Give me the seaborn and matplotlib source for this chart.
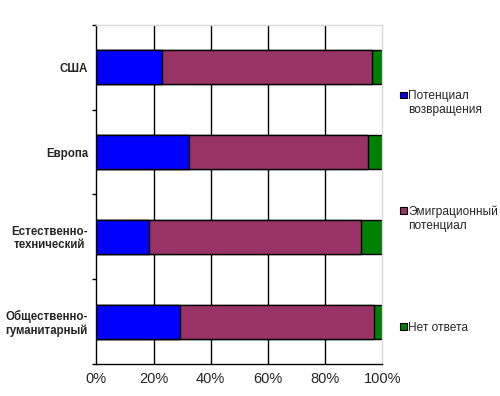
import seaborn as sns
import matplotlib.pyplot as plt
import pandas as pd
from matplotlib.patches import Rectangle

categories = ["США", "Европа", "Естественно-\nтехнический", "Общественно-\nгуманитарный"]
return_potential = [22.8, 32.5, 18.6, 29.4]
emigration_potential = [73.6, 62.5, 73.9, 67.7]
no_answer = [3.6, 5.0, 7.5, 2.9]

series_names = ["Потенциал\nвозвращения", "Эмиграционный\nпотенциал", "Нет ответа"]
colors = ["#0000FF", "#993366", "#008000"]
xticks = [0, 20, 40, 60, 80, 100]

df = pd.DataFrame({
    "cat": categories,
    "s1": return_potential,
    "s2": emigration_potential,
    "s3": no_answer,
})
df["c1"] = df["s1"]
df["c2"] = df["s1"] + df["s2"]
df["c3"] = df["c2"] + df["s3"]

sns.set_style("white")
plt.rcParams["font.family"] = ["Liberation Sans", "DejaVu Sans"]

fig = plt.figure(figsize=(5, 3.96), dpi=100)
ax = fig.add_axes([0.1926, 0.0808, 0.572, 0.8561])

# stacked bars drawn as overlapping cumulative totals
for col, color in zip(["c3", "c2", "c1"], colors[::-1]):
    sns.barplot(data=df, x=col, y="cat", color=color, width=0.4,
                edgecolor="black", linewidth=1, saturation=1, ax=ax)

ax.set_xlim(0, 100)
ax.set_ylim(3.5, -0.5)
ax.set_xticks(xticks)
ax.set_xticklabels([f"{t}%" for t in xticks], fontsize=10.5)
ax.set_xlabel("")
ax.set_ylabel("")
ax.set_yticks([-0.5, 0.5, 1.5, 2.5, 3.5], minor=True)
ax.tick_params(axis="y", which="major", length=0, pad=6)
ax.tick_params(axis="y", which="minor", length=3, width=1, color="black", direction="out", left=True)
ax.tick_params(axis="x", length=0, pad=6)
for lab in ax.get_yticklabels():
    lab.set_fontweight("bold")
    lab.set_fontsize(8.3)
    lab.set_multialignment("center")
    lab.set_linespacing(1.1)

ax.set_axisbelow(True)
ax.grid(axis="x", color="black", linewidth=1)
gl = ax.xaxis.get_gridlines()
gl[0].set_visible(False)
gl[-1].set_visible(False)

for side in ["left", "bottom"]:
    ax.spines[side].set_color("black")
    ax.spines[side].set_linewidth(1)
for side in ["top", "right"]:
    ax.spines[side].set_color("#d9d9d9")
    ax.spines[side].set_linewidth(1)

# legend: marker aligned with the first line of each label
W, H = 500, 396
legend_y = [95, 210.5, 326.5]
for name, color, yc in zip(series_names, colors, legend_y):
    fig.add_artist(Rectangle((400 / W, 1 - (yc + 3.3) / H), 6.5 / W, 6.5 / H,
                             transform=fig.transFigure, facecolor=color,
                             edgecolor="black", linewidth=0.8))
    for i, line in enumerate(name.split("\n")):
        fig.text(408 / W, 1 - (yc + 4.2 + 14 * i) / H, line, fontsize=8.6,
                 va="baseline", ha="left")

fig.savefig("out.png", dpi=100)
